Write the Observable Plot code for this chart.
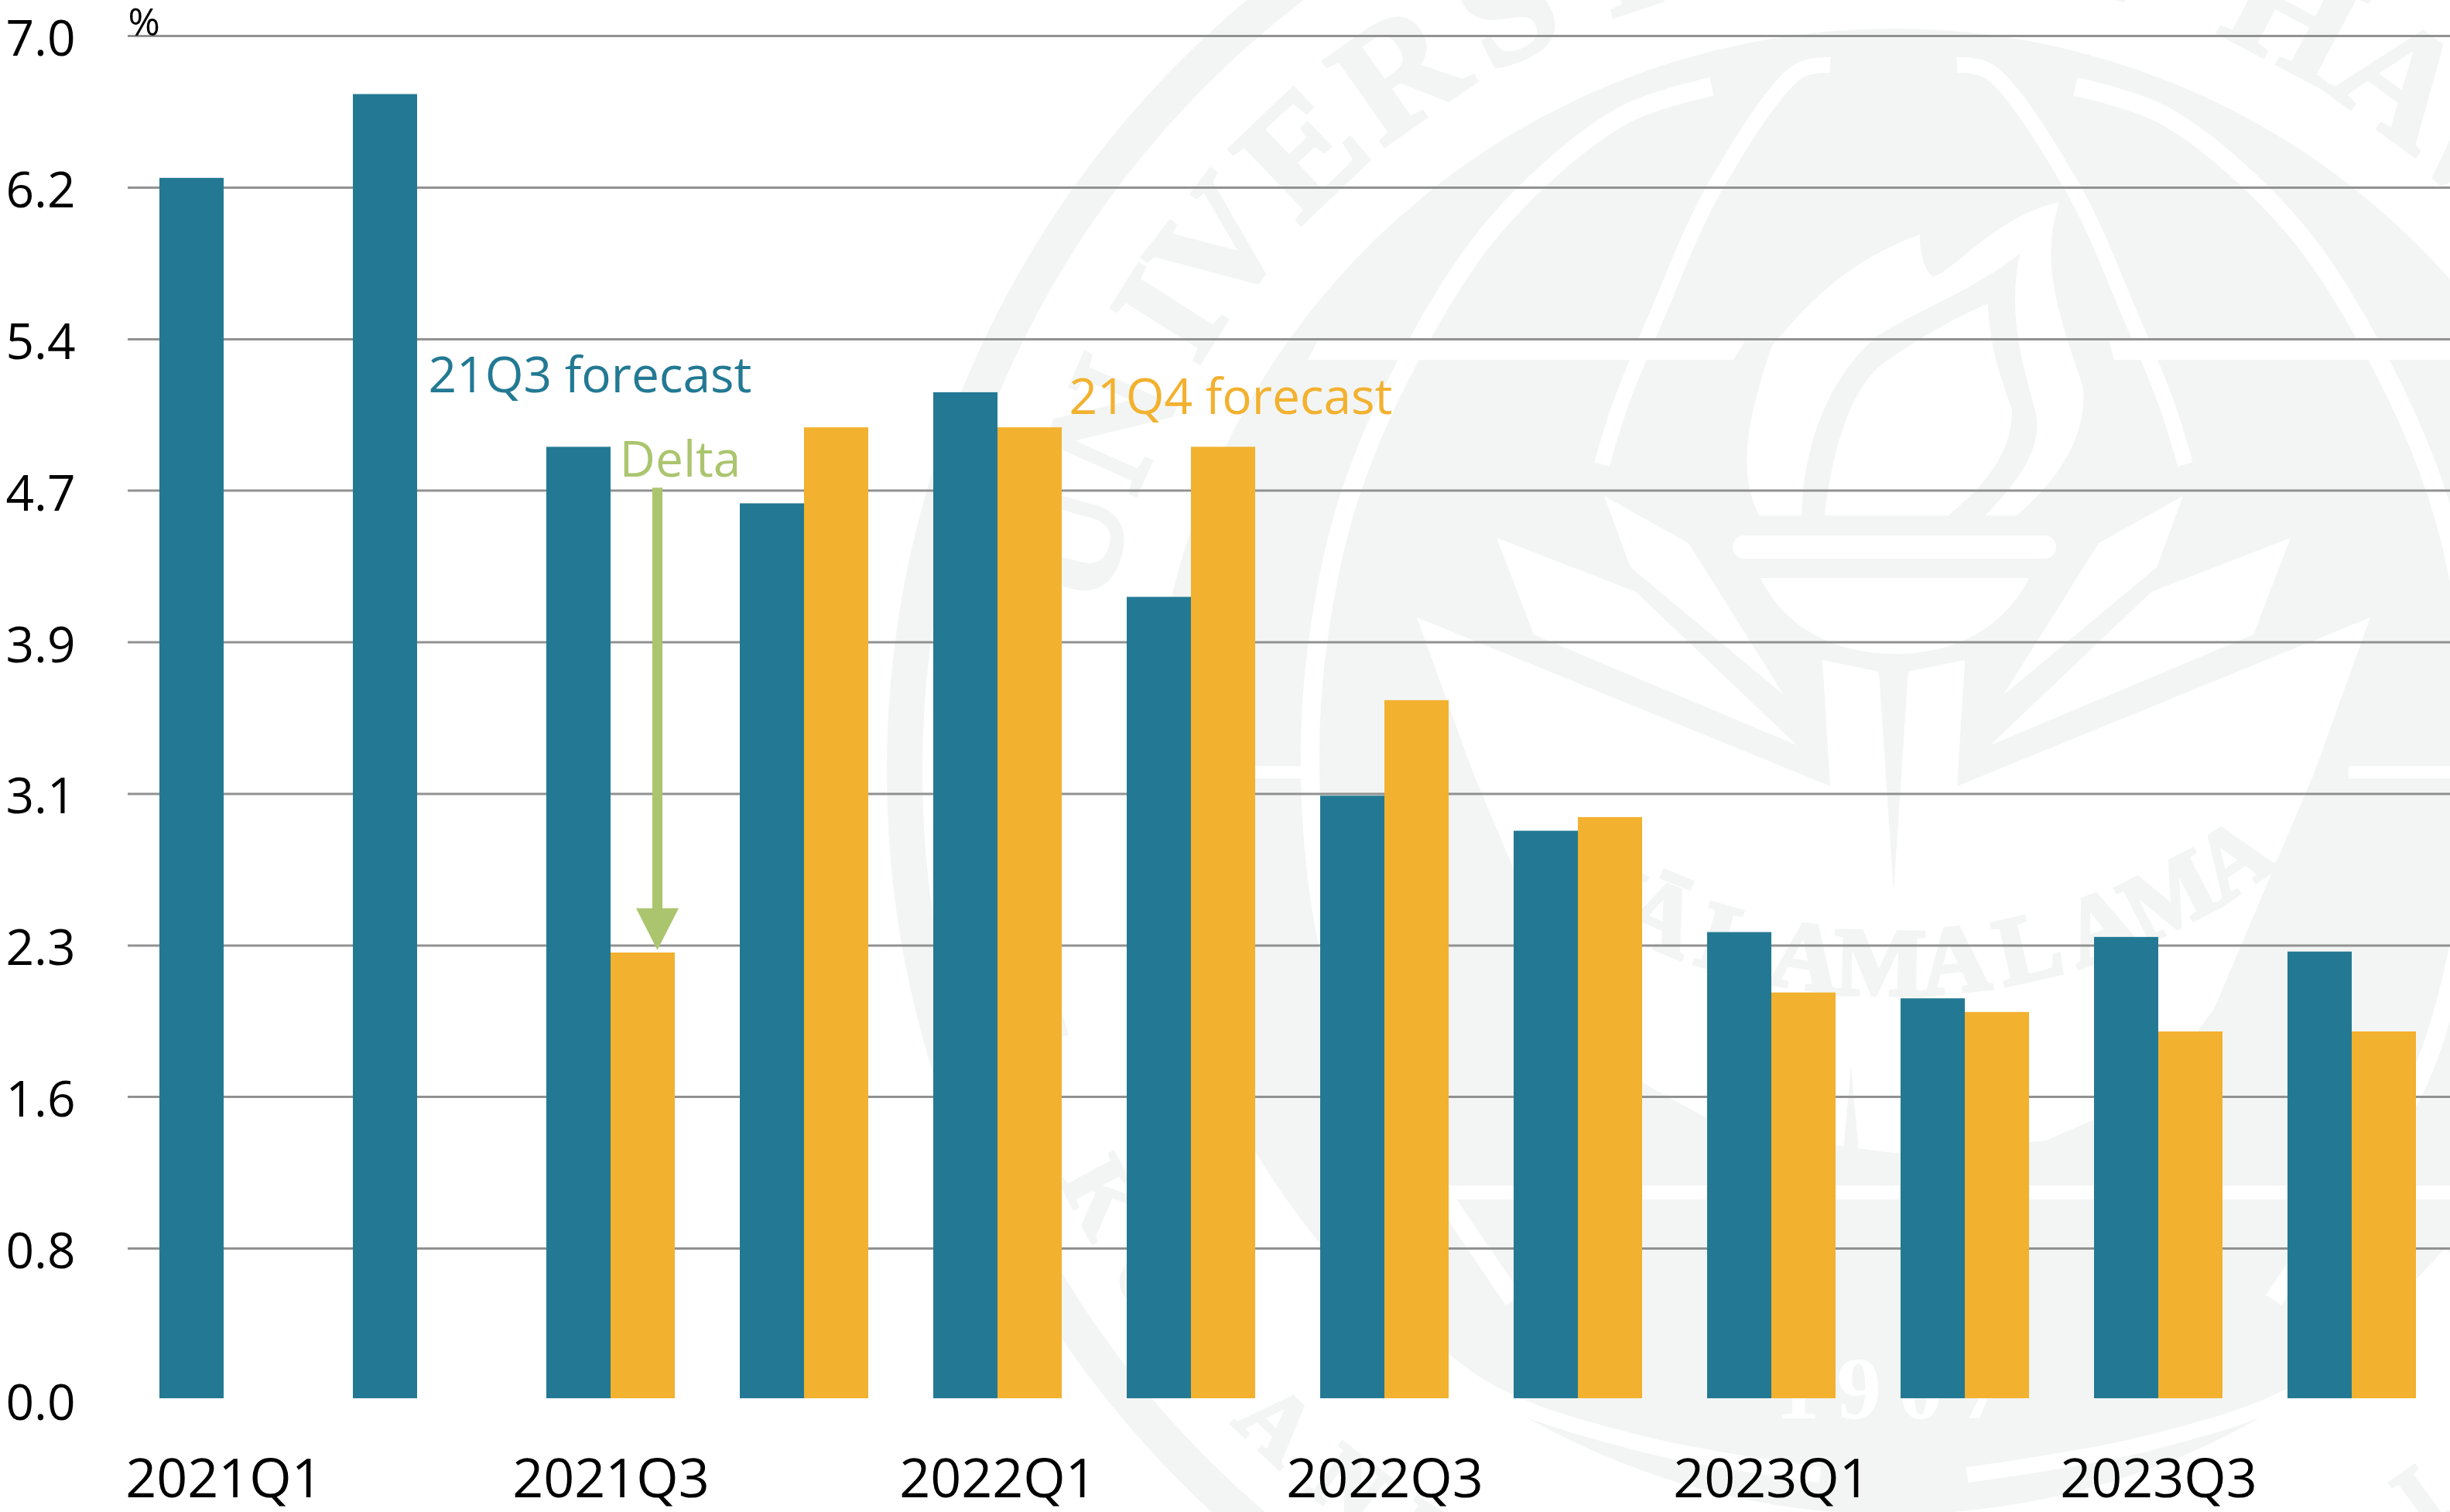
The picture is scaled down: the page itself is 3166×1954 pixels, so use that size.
<!DOCTYPE html>
<html>
<head>
<meta charset="utf-8">
<script src="https://cdn.jsdelivr.net/npm/d3@7"></script>
<script src="https://cdn.jsdelivr.net/npm/@observablehq/plot@0.6"></script>
<style>
html,body{margin:0;padding:0;background:#fff;}
svg{display:block;}
</style>
</head>
<body>
<div id="chart"></div>
<script>
const quarters = ["2021Q1","2021Q2","2021Q3","2021Q4","2022Q1","2022Q2","2022Q3","2022Q4","2023Q1","2023Q2","2023Q3","2023Q4"];
const forecast21Q3 = [6.27,6.70,4.89,4.60,5.17,4.12,3.10,2.92,2.40,2.06,2.375,2.30];
const forecast21Q4 = [null,null,2.295,4.99,4.99,4.89,3.59,2.99,2.09,1.99,1.89,1.89];
const yTicks = [0,0.778,1.556,2.333,3.111,3.889,4.667,5.444,6.222,7.0];
const xLabels = ["2021Q1","2021Q3","2022Q1","2022Q3","2023Q1","2023Q3"];

const TEAL="#237993", ORANGE="#f2b12f", GREEN="#abc56e", WM="#f3f5f4";

const rows = (values)=>quarters.map((q,i)=>({q,v:values[i]})).filter(d=>d.v!=null);

// background seal (decoration only)
function seal(){
  const cx=2447, cy=997;
  const g=d3.create("svg:g");
  const rad=a=>a*Math.PI/180;
  const curve=d3.line().curve(d3.curveCatmullRom);
  const mirror=pts=>pts.map(([x,y])=>[2*cx-x,y]);
  g.append("circle").attr("cx",cx).attr("cy",cy).attr("r",1278).attr("fill","none").attr("stroke",WM).attr("stroke-width",46);
  g.append("circle").attr("cx",cx).attr("cy",cy).attr("r",960).attr("fill",WM);
  const white=(d)=>g.append("path").attr("d",d).attr("fill","#fff");
  const whiteLine=(pts,w)=>g.append("path").attr("d",curve(pts)).attr("fill","none").attr("stroke","#fff").attr("stroke-width",w);
  // bands
  white("M1703,440H2255L2240,465H1690Z");
  white("M2725,440H3195L3205,465H2732Z");
  g.append("rect").attr("x",1620).attr("y",990).attr("width",66).attr("height",16).attr("fill","#fff");
  g.append("rect").attr("x",3035).attr("y",990).attr("width",240).attr("height",16).attr("fill","#fff");
  g.append("rect").attr("x",1870).attr("y",1532).attr("width",1300).attr("height",18).attr("fill","#fff");
  // arcs
  const ringL=[[2212,112],[2096,150],[1942,280],[1837,434],[1745,638],[1703,829],[1693,1000],[1712,1200],[1770,1400],[1858,1535],[1956,1680]];
  whiteLine(ringL,24); whiteLine(mirror(ringL),24);
  const midL=[[2365,84],[2324,92],[2216,242],[2141,408],[2095,520],[2070,600]];
  whiteLine(midL,20); whiteLine(mirror(midL),20);
  const lowL=[[1727,1620],[1910,1790],[2114,1864],[2352,1906]];
  whiteLine(lowL,20); whiteLine(mirror(lowL),20);
  // big triangle with chevrons and handle
  white("M1831,798L2365,1016L2355,853L2428,868L2447,1153L2466,868L2539,853L2529,1016L3063,798L2990,1000L2861,1304L2780,1414L2644,1474L2447,1490L2236,1462L2124,1400L2010,1250L1904,1000Z");
  g.append("path").attr("d","M2392,1377L2380,1510H2404ZM2502,1377L2490,1510H2514Z").attr("fill",WM);
  // flame
  white("M2273,666C2250,620 2250,560 2290,447C2330,400 2380,340 2481,303C2480,330 2490,357 2500,357C2530,345 2580,280 2661,261C2640,330 2650,380 2691,497C2700,560 2660,620 2606,666H2566C2620,610 2640,570 2630,530C2610,460 2595,400 2610,328C2550,375 2480,400 2426,434C2360,490 2330,580 2328,666Z");
  white("M2358,666C2370,560 2400,490 2440,465C2490,430 2530,410 2569,392C2570,450 2590,500 2600,530C2600,590 2560,630 2518,666Z");
  g.append("rect").attr("x",2239).attr("y",692).attr("width",418).attr("height",30).attr("rx",15).attr("fill","#fff");
  white("M2275,747H2622C2590,810 2530,845 2447,845C2370,845 2305,810 2275,747Z");
  // leaves
  const leafA=[[2589,898],[2787,733],[2821,641],[2712,702]];
  const leafB=[[2572,963],[2912,820],[2960,695],[2780,765]];
  const poly=p=>"M"+p.map(d=>d.join(",")).join("L")+"Z";
  white(poly(leafA)); white(poly(mirror(leafA))); white(poly(leafB)); white(poly(mirror(leafB)));
  // lettering, glyph by glyph along arcs
  const glyph=(ch,x,y,rot,size,fill)=>g.append("text").attr("transform",`translate(${x},${y}) rotate(${rot})`)
    .attr("text-anchor","middle").attr("font-family","Liberation Serif").attr("font-weight",700)
    .attr("font-size",size).attr("fill",fill).attr("stroke",fill).attr("stroke-width",5).text(ch);
  let a=-74.5;
  for(const ch of "UNIVERSITY OF HAWAI‘I"){
    if(ch===" "){a+=3.6;continue;}
    glyph(ch,cx+1040*Math.sin(rad(a)),cy-1040*Math.cos(rad(a)),a,205,WM);
    a+=(ch==="I"||ch==="‘")?5.6:8.4;
  }
  a=260;
  for(const ch of "KE KULANUI O HAWAI‘I"){
    if(ch!==" ") glyph(ch,cx+1200*Math.sin(rad(a)),cy-1200*Math.cos(rad(a)),a-180,120,WM);
    a-=6.1;
  }
  a=-29.7;
  for(const ch of "MĀLAMALAMA"){
    glyph(ch,cx+822*Math.sin(rad(a)),464+822*Math.cos(rad(a)),-a,125,WM);
    a+=7.1;
  }
  g.append("text").attr("x",cx+6).attr("y",1833).attr("text-anchor","middle").attr("font-family","Liberation Serif").attr("font-weight",700)
    .attr("font-size",115).attr("letter-spacing",22).attr("fill","#fff").text("1907");
  return g.node();
}

const downHead = {draw(ctx){ctx.moveTo(-27.5,-54);ctx.lineTo(27.5,-54);ctx.lineTo(0,0);ctx.closePath();}};

const plot = Plot.plot({
  width:3166, height:1954,
  marginLeft:165, marginRight:0, marginTop:46, marginBottom:145,
  style:{fontFamily:"'Open Sans'", background:"transparent", overflow:"hidden"},
  x:{domain:quarters, range:[165,3162], paddingInner:0.337, paddingOuter:0.16, label:null},
  y:{domain:[0,7], label:null},
  marks:[
    seal,
    Plot.ruleY(yTicks.filter(d=>d>0),{stroke:"#919191",strokeWidth:3}),
    Plot.barY(rows(forecast21Q3),{x:"q",y:"v",fill:TEAL,insetRight:83,insetBottom:2}),
    Plot.barY(rows(forecast21Q4),{x:"q",y:"v",fill:ORANGE,insetLeft:83,insetBottom:2}),
    Plot.ruleX(["2021Q3"],{x:d=>d,y1:4.68,y2:2.52,stroke:GREEN,strokeWidth:13,dx:60}),
    Plot.dot(["2021Q3"],{x:d=>d,y:2.31,symbol:downHead,fill:GREEN,stroke:"none",dx:60}),
    Plot.text(["21Q3 forecast"],{x:()=>"2021Q2",y:()=>5.17,text:d=>d,fill:TEAL,fontSize:64,textAnchor:"start",lineAnchor:"bottom",dx:14}),
    Plot.text(["21Q4 forecast"],{x:()=>"2022Q1",y:()=>5.06,text:d=>d,fill:ORANGE,fontSize:64,textAnchor:"start",lineAnchor:"bottom",dx:92}),
    Plot.text(["Delta"],{x:()=>"2021Q3",y:()=>4.74,text:d=>d,fill:GREEN,fontSize:64,textAnchor:"start",lineAnchor:"bottom",dx:11}),
    Plot.text(["%"],{frameAnchor:"top-left",text:d=>d,fill:"#000",fontSize:50,textAnchor:"start",lineAnchor:"bottom",dy:-1}),
    Plot.axisY({ticks:yTicks,tickFormat:d=>d.toFixed(1),tickSize:0,tickPadding:68,fontSize:64,fill:"#000",label:null,dy:5}),
    Plot.axisX({ticks:xLabels,tickSize:0,tickPadding:76,fontSize:70,fill:"#000",label:null})
  ]
});
document.getElementById("chart").appendChild(plot);
</script>
</body>
</html>
